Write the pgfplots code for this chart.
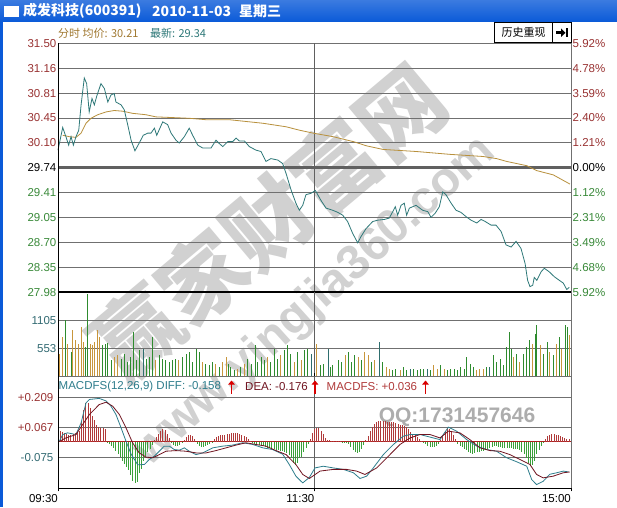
\documentclass[border=0pt]{standalone}
\usepackage{pgfplots}
\pgfplotsset{compat=1.18}
\usepackage{fontspec}
\setmainfont{Liberation Sans}
\newfontfamily\cjk{Noto Sans CJK SC}
\usetikzlibrary{arrows.meta}

\definecolor{tr}{HTML}{993333}
\definecolor{tg}{HTML}{3A8A3A}
\definecolor{gridc}{HTML}{707070}
\definecolor{vlc}{HTML}{606060}
\definecolor{pline}{HTML}{2E7878}
\definecolor{avgc}{HTML}{B8903C}
\definecolor{hdr}{HTML}{A07830}
\definecolor{vo}{HTML}{C8963C}
\definecolor{vg}{HTML}{2E8B2E}
\definecolor{vt}{HTML}{2E6E6E}
\definecolor{vlab}{HTML}{336B73}
\definecolor{mr}{HTML}{B03A3A}
\definecolor{mg}{HTML}{3AA03A}
\definecolor{difc}{HTML}{2E7D8C}
\definecolor{deac}{HTML}{701420}
\definecolor{zeroc}{HTML}{B02020}
\definecolor{winblue}{HTML}{0A5AD8}

\pgfplotsset{
  panel/.style={
    scale only axis, width=513pt, xmin=0, xmax=240,
    axis line style={draw=none}, tick style={draw=none},
    xtick=\empty,
    ymajorgrids, grid style={gridc, line width=0.9pt},
    yticklabel style={font=\fontsize{11.5}{12}\selectfont, inner sep=1.5pt},
    clip=false,
    extra x ticks={120}, extra x tick labels={},
    extra x tick style={grid=major, major grid style={vlc, line width=1.8pt}},
  }
}

\begin{document}
\begin{tikzpicture}[x=1pt,y=1pt]
% window
\fill[white] (0,0) rectangle (617,507);
\shade[top color=winblue!80!white, bottom color=winblue] (0,485) rectangle (617,507);
\fill[winblue] (0,0) rectangle (3,485);
\draw[white, fill=white] (4.5,491) rectangle (18,500.5);
\node[anchor=west, text=white, font=\cjk\bfseries\fontsize{14}{14}\selectfont, inner sep=0] at (23,496) {成发科技(600391)};
\node[anchor=west, text=white, font=\cjk\bfseries\fontsize{14}{14}\selectfont, inner sep=0] at (152,496) {2010-11-03};
\node[anchor=west, text=white, font=\cjk\bfseries\fontsize{14}{14}\selectfont, inner sep=0] at (239,496) {星期三};

% watermark
\node[rotate=40, font=\cjk\bfseries\fontsize{86}{86}\selectfont, text=black!18] at (268,285) {赢家财富网};
\node[rotate=42, font=\bfseries\fontsize{48}{48}\selectfont, text=black!18] at (315,205) {www.yingjia360.com};
\node[font=\bfseries\fontsize{21}{21}\selectfont, text=black!32] at (457,90) {QQ:1731457646};

% header
\node[anchor=west, font=\cjk\fontsize{11}{11}\selectfont, inner sep=0, text=hdr] at (58,474) {分时 均价: 30.21};
\node[anchor=west, font=\cjk\fontsize{11}{11}\selectfont, inner sep=0, text=pline] at (150,474) {最新: 29.34};
\draw[black, fill=white, line width=0.8pt] (494.3,464.3) rectangle (552.7,484.3);
\node[font=\cjk\fontsize{11}{11}\selectfont] at (523.5,474.3) {历史重现};
\draw[black, fill=white, line width=0.8pt] (552.7,464.3) rectangle (571,484.3);
\fill[black] (556,472.5) rectangle (561,476);
\fill[black] (561,470) -- (565.5,474.2) -- (561,478.5) -- cycle;
\fill[black] (566,469.5) rectangle (568,479);

% price panel
\begin{axis}[panel, at={(58pt,214.7pt)}, anchor=south west, height=249pt,
  ymin=27.98, ymax=31.50,
  ytick={27.98,28.332,28.684,29.036,29.388,29.74,30.092,30.444,30.796,31.148,31.50},
  yticklabels={\textcolor{tg}{27.98},\textcolor{tg}{28.35},\textcolor{tg}{28.70},\textcolor{tg}{29.05},\textcolor{tg}{29.41},29.74,\textcolor{tr}{30.10},\textcolor{tr}{30.45},\textcolor{tr}{30.81},\textcolor{tr}{31.16},\textcolor{tr}{31.50}},
  extra y ticks={29.74}, extra y tick labels={},
  extra y tick style={major grid style={vlc, line width=3pt}},
]
\addplot[avgc, line width=0.8pt, mark=none] coordinates {
(2.2,30.20)(5.3,30.18)(8.4,30.17)(10.8,30.23)(13.1,30.37)(15.4,30.44)(18.6,30.49)(22.5,30.53)
(26.3,30.55)(30.3,30.54)(34.9,30.51)(41.2,30.49)(45.8,30.46)(53.7,30.45)(61.4,30.44)(69.2,30.42)
(80.1,30.42)(95.8,30.37)(106.7,30.32)(113.2,30.27)(119.4,30.23)(128.7,30.18)(138.2,30.11)
(144.4,30.05)(152.0,30.00)(167.8,29.97)(183.4,29.93)(198.8,29.90)(205.2,29.87)(209.9,29.83)
(219.3,29.77)(224.0,29.70)(231.7,29.64)(239.5,29.51)
};
\addplot[pline, line width=0.8pt, mark=none] coordinates {
(0,29.99)(2.2,30.31)(3.7,30.18)(5.0,30.06)(6.1,30.18)(7.2,30.06)(8.4,30.18)(9.7,30.27)
(10.8,30.63)(12.3,31.01)(13.4,30.93)(14.6,30.53)(15.9,30.72)(17.0,30.63)(18.1,30.75)(20.1,30.93)
(21.7,30.86)(23.3,30.67)(24.8,30.77)(26.3,30.79)(27.1,30.67)(29.5,30.63)(31.0,30.56)(32.6,30.35)
(34.2,30.13)(36.0,29.98)(38.0,30.09)(39.9,30.20)(42.0,30.23)(43.5,30.23)(45.1,30.30)(46.2,30.20)
(49.0,30.39)(51.3,30.35)(52.9,30.23)(55.2,30.13)(56.7,30.09)(59.1,30.18)(61.4,30.30)(63.0,30.20)
(65.4,30.06)(67.7,30.02)(71.6,30.02)(73.9,30.13)(75.2,30.09)(77.1,30.04)(79.4,30.11)(81.7,30.11)
(83.3,30.16)(84.8,30.12)(87.2,30.12)(89.5,30.04)(92.6,29.99)(95.0,29.97)(97.3,29.83)(99.6,29.87)
(102.8,29.85)(105.1,29.80)(106.7,29.66)(109.0,29.43)(111.3,29.24)(112.9,29.14)(114.5,29.21)
(116.0,29.36)(118.4,29.38)(120.4,29.42)(123.0,29.28)(125.4,29.17)(128.5,29.14)(130.9,29.11)
(133.2,29.07)(135.5,28.98)(137.9,28.81)(140.2,28.68)(141.8,28.77)(144.1,28.88)(147.2,28.98)
(149.6,29.00)(152.7,29.01)(155.0,29.03)(156.6,29.12)(157.8,29.19)(158.9,29.07)(160.5,29.21)
(162.0,29.24)(163.1,29.07)(164.4,29.17)(167.5,29.21)(170.6,29.14)(173.0,29.12)(174.5,29.04)
(176.5,29.10)(178.4,29.19)(180.0,29.40)(181.5,29.36)(183.9,29.24)(186.2,29.14)(188.5,29.11)
(190.9,29.05)(193.2,29.00)(195.9,28.96)(197.9,29.01)(199.9,28.98)(202.6,28.93)(204.9,28.93)
(207.3,28.84)(209.6,28.65)(212.0,28.62)(214.3,28.70)(216.6,28.60)(218.5,28.39)(219.7,28.15)
(220.8,28.06)(222.1,28.08)(222.8,28.19)(224.0,28.15)(226.0,28.27)(227.5,28.32)(229.8,28.27)
(232.2,28.20)(234.5,28.15)(236.4,28.11)(238.0,28.02)(239.2,28.05)
};
\draw[black, line width=1.8pt] (rel axis cs:0,0) -- (rel axis cs:1,0);
\end{axis}

% right-hand percent labels
\begin{axis}[scale only axis, width=513pt, height=249pt, at={(58pt,214.7pt)}, anchor=south west,
  xmin=0, xmax=240, ymin=27.98, ymax=31.50, xtick=\empty,
  axis line style={draw=none}, tick style={draw=none},
  yticklabel pos=right,
  yticklabel style={font=\fontsize{11.5}{12}\selectfont, inner sep=1.5pt},
  ytick={27.98,28.332,28.684,29.036,29.388,29.74,30.092,30.444,30.796,31.148,31.50},
  yticklabels={\textcolor{tg}{5.92\%},\textcolor{tg}{4.68\%},\textcolor{tg}{3.49\%},\textcolor{tg}{2.31\%},\textcolor{tg}{1.12\%},0.00\%,\textcolor{tr}{1.21\%},\textcolor{tr}{2.40\%},\textcolor{tr}{3.59\%},\textcolor{tr}{4.78\%},\textcolor{tr}{5.92\%}},
]
\end{axis}

% volume panel
\begin{axis}[panel, at={(58pt,131pt)}, anchor=south west, height=83.7pt,
  ymin=0, ymax=1677, ytick={0,553,1105},
  yticklabels={{},\textcolor{vlab}{553},\textcolor{vlab}{1105}},
]
\addplot[ycomb, vo, line width=1pt, mark=none] coordinates {
(0.6,450)(2.2,785)(4.5,650)(6.9,918)(8.4,718)(9.7,650)(10.8,985)(11.9,685)(15,650)(16.2,620)
(17.3,685)(18.6,918)(19.6,785)(26.4,385)(27.9,420)(45.8,320)(56.5,320)(67.7,285)(73.9,250)(77,285)
(78.6,385)(84.1,150)(87.2,250)(98.1,385)(104.3,420)(110.6,285)(113.7,320)(118.4,385)(121,650)
(134.3,420)(140.5,385)(143.6,485)(145.2,420)(148.3,320)(153.5,185)(155,150)(160,120)(175.9,220)
(177.4,150)(180.6,150)(195.9,120)(197.4,150)(199,150)(213.3,385)(216.1,285)(222,650)(225.5,620)
(230.1,485)(233.3,650)(235.6,550)(239.2,815)
};
\addplot[ycomb, vg, line width=1pt, mark=none] coordinates {
(3.4,1117)(6.1,485)(12.8,585)(13.9,1650)(20.9,620)(22.1,650)(23.2,665)(24.8,320)(29.5,350)(31,450)
(32.6,285)(33.7,385)(35.2,885)(36.5,320)(38,520)(41.2,350)(42.7,385)(44.3,785)(47.4,420)(49,350)
(50.5,320)(52.1,285)(53.6,320)(55.2,350)(58.3,385)(59.9,450)(61.4,485)(63,285)(64.6,550)(66.4,485)
(69.2,250)(70.8,220)(72.4,285)(75.5,185)(79.8,250)(80.9,185)(82.5,120)(85.6,185)(88.7,350)(90.3,250)
(92.2,620)(93.4,285)(95,385)(96.5,320)(99.6,285)(101.2,550)(102.8,350)(105.9,520)(107.4,620)(109,450)
(112.1,485)(115.2,520)(116.8,550)(122.6,220)(124.1,250)(127.4,185)(128.6,220)(131.1,320)(132.6,285)
(135.8,485)(137.4,285)(138.9,420)(142.1,320)(146.7,285)(151.9,285)(156.6,120)(158.1,150)(161.6,185)
(163.1,120)(166.5,150)(168.1,120)(169.6,135)(171.2,135)(174.3,120)(179,220)(182.1,120)(183.7,135)
(185.3,135)(186.8,120)(188.4,185)(190,150)(191.2,385)(192.8,250)(194.3,185)(200.6,185)(203.7,420)
(205.2,285)(206.8,350)(208.3,220)(209.9,585)(211,885)(212.2,550)(214.6,450)(217.7,450)(219.2,585)
(220.8,720)(223.2,850)(223.9,1017)(227,450)(228.9,685)(231.7,420)(234.8,785)(237.2,1017)(238.3,985)
};
\addplot[ycomb, vt, line width=1pt, mark=none] coordinates {
(39.9,550)(118.7,450)(126.5,550)(150.3,685)(164.7,150)(172.8,150)(202.1,185)
};
\end{axis}

% MACD panel
\begin{axis}[panel, at={(58pt,18.7pt)}, anchor=south west, height=112.3pt,
  ymin=-0.2215, ymax=0.310,
  ytick={-0.075,0.067,0.209},
  yticklabels={\textcolor{vlab}{-0.075},\textcolor{tr}{+0.067},\textcolor{tr}{+0.209}},
  extra y ticks={0}, extra y tick labels={},
  extra y tick style={major grid style={zeroc, line width=1.5pt}},
  xtick={0,120,240}, xticklabels={09:30,11:30,15:00},
  xtick style={draw=black, line width=0.8pt}, tick align=outside, major tick length=3pt,
  xticklabel style={font=\fontsize{11.5}{12}\selectfont, anchor=north east, inner xsep=0pt},
]
\addplot[ycomb, mr, line width=0.7pt, mark=none] coordinates {
(0,0.04)(1,0.05)(2,0.045)(3,0.04)(4,0.035)(5,0.033)(6,0.033)(7,0.035)(8,0.04)(9,0.045)(10,0.05)
(11,0.09)(12,0.15)(13,0.18)(14,0.18)(15,0.16)(16,0.12)(17,0.1)(18,0.08)(19,0.07)(20,0.066)(21,0.065)(22,0.06)
(45,0.005)(46,0.02)(47,0.035)(48,0.05)(49,0.06)(50,0.055)(51,0.035)(52,0.015)
(59,0.005)(60,0.02)(61,0.03)(62,0.033)(63,0.025)(64,0.01)
(73,0.01)(74,0.02)(75,0.025)(76,0.03)(77,0.03)(78,0.032)(79,0.035)(80,0.037)(81,0.04)(82,0.041)
(83,0.041)(84,0.04)(85,0.036)(86,0.033)(87,0.028)(88,0.02)(89,0.01)(90,0.003)
(118,0.01)(119,0.04)(120,0.06)(121,0.065)(122,0.065)(123,0.05)(124,0.035)(125,0.015)(126,0.008)
(127,0.005)(128,0.004)(129,0.003)(130,0.003)(131,0.002)(132,0.002)
(144,0.005)(145,0.025)(146,0.05)(147,0.07)(148,0.085)(149,0.093)(150,0.096)(151,0.096)(152,0.095)
(153,0.096)(154,0.094)(155,0.092)(156,0.09)(157,0.09)(158,0.088)(159,0.085)(160,0.08)(161,0.08)
(162,0.075)(163,0.07)(164,0.06)(165,0.045)(166,0.035)(167,0.03)(168,0.02)(169,0.01)(170,0.003)
(179,0.005)(180,0.03)(181,0.05)(182,0.065)(183,0.06)(184,0.05)(185,0.03)(186,0.01)
(228,0.01)(229,0.025)(230,0.033)(231,0.036)(232,0.035)(233,0.033)(234,0.03)(235,0.025)(236,0.02)
(237,0.015)(238,0.01)(239,0.01)(240,0.01)
};
\addplot[ycomb, mg, line width=0.7pt, mark=none] coordinates {
(23,-0.005)(24,-0.014)(25,-0.02)(26,-0.03)(27,-0.045)(28,-0.06)(29,-0.075)(30,-0.09)(31,-0.105)
(32,-0.12)(33,-0.135)(34,-0.16)(35,-0.185)(36,-0.196)(37,-0.19)(38,-0.15)(39,-0.13)(40,-0.093)
(41,-0.07)(42,-0.05)(43,-0.035)(44,-0.015)
(53,-0.005)(54,-0.015)(55,-0.02)(56,-0.022)(57,-0.015)(58,-0.008)
(65,-0.01)(66,-0.02)(67,-0.027)(68,-0.027)(69,-0.022)(70,-0.015)(71,-0.01)(72,-0.005)
(91,-0.003)(92,-0.014)(93,-0.016)(94,-0.018)(95,-0.02)(96,-0.02)(97,-0.025)(98,-0.03)(99,-0.03)
(100,-0.035)(101,-0.035)(102,-0.04)(103,-0.04)(104,-0.045)(105,-0.046)(106,-0.05)(107,-0.055)
(108,-0.062)(109,-0.08)(110,-0.1)(111,-0.109)(112,-0.1)(113,-0.08)(114,-0.075)(115,-0.05)(116,-0.03)(117,-0.01)
(133,-0.002)(134,-0.003)(135,-0.005)(136,-0.01)(137,-0.025)(138,-0.04)(139,-0.05)(140,-0.054)
(141,-0.05)(142,-0.035)(143,-0.015)
(171,-0.005)(172,-0.012)(173,-0.02)(174,-0.025)(175,-0.027)(176,-0.025)(177,-0.02)(178,-0.01)
(187,-0.01)(188,-0.02)(189,-0.028)(190,-0.035)(191,-0.04)(192,-0.05)(193,-0.055)(194,-0.06)
(195,-0.055)(196,-0.05)(197,-0.048)(198,-0.045)(199,-0.046)(200,-0.04)(201,-0.035)(202,-0.03)
(203,-0.025)(204,-0.022)(205,-0.022)(206,-0.025)(207,-0.028)(208,-0.03)(209,-0.03)(210,-0.03)
(211,-0.03)(212,-0.032)(213,-0.034)(214,-0.035)(215,-0.036)(216,-0.04)(217,-0.05)(218,-0.06)
(219,-0.08)(220,-0.1)(221,-0.117)(222,-0.11)(223,-0.09)(224,-0.06)(225,-0.04)(226,-0.02)(227,-0.005)
};
\addplot[difc, line width=0.8pt, mark=none] coordinates {
(0.6,0)(2.2,0.033)(4.5,0.041)(8.4,0.033)(10.8,0.088)(13.1,0.183)(14.7,0.199)(19.3,0.204)(22.5,0.192)
(24.8,0.167)(27.1,0.128)(29.5,0.065)(31.8,0.002)(34.2,-0.06)(37.3,-0.11)(40.4,-0.109)(42.7,-0.085)
(45.1,-0.069)(47.4,-0.046)(49.7,-0.022)(52.1,-0.022)(54.4,-0.038)(56.8,-0.041)(59.1,-0.03)(61.4,-0.046)
(64.6,-0.062)(67.7,-0.054)(72.4,-0.03)(77.0,-0.022)(81.7,-0.017)(86.4,-0.006)(91.1,-0.014)(95.8,-0.03)
(100.4,-0.038)(105.1,-0.06)(108.2,-0.109)(111.3,-0.164)(114.5,-0.196)(117.6,-0.17)(120.2,-0.125)
(124.1,-0.117)(128.8,-0.125)(133.5,-0.132)(138.2,-0.148)(141.3,-0.175)(144.4,-0.164)(147.5,-0.125)
(152.2,-0.062)(156.9,-0.014)(161.5,0.025)(164.7,0.033)(169.4,0.033)(174.0,0.021)(178.7,0.009)
(182.6,0.068)(186.5,0.049)(191.2,0.009)(195.9,-0.022)(200.6,-0.038)(205.2,-0.046)(209.9,-0.077)
(214.6,-0.096)(219.3,-0.117)(221.6,-0.18)(223.9,-0.204)(227.0,-0.188)(230.1,-0.155)(233.3,-0.148)
(236.4,-0.14)(238.8,-0.144)
};
\addplot[deac, line width=0.8pt, mark=none] coordinates {
(0.6,0)(3.7,0.017)(8.4,0.033)(11.5,0.08)(14.7,0.128)(19.3,0.175)(22.5,0.186)(25.6,0.167)(28.7,0.128)
(31.8,0.065)(34.9,-0.006)(38.0,-0.054)(41.2,-0.074)(44.3,-0.077)(47.4,-0.062)(50.5,-0.046)(55.2,-0.043)
(59.9,-0.046)(64.6,-0.054)(69.2,-0.054)(73.9,-0.043)(78.6,-0.03)(83.3,-0.017)(87.9,-0.006)(92.6,-0.014)
(97.3,-0.022)(102.0,-0.043)(106.7,-0.062)(111.3,-0.109)(114.5,-0.156)(117.6,-0.175)(122.6,-0.14)
(128.8,-0.132)(135.0,-0.132)(139.7,-0.14)(143.6,-0.156)(149.1,-0.125)(155.3,-0.062)(160.0,-0.014)
(164.7,0.017)(169.4,0.033)(174.0,0.033)(178.7,0.017)(182.6,0.049)(188.0,0.041)(192.7,0.009)
(197.4,-0.03)(202.1,-0.043)(206.7,-0.046)(211.4,-0.062)(216.1,-0.085)(220.8,-0.109)(223.9,-0.156)
(227.0,-0.172)(231.7,-0.164)(236.4,-0.148)(239.4,-0.144)
};
\draw[black, line width=1pt] (rel axis cs:0,0) -- (rel axis cs:1,0);
\end{axis}

% MACD caption row
\node[anchor=west, inner sep=0, font=\fontsize{11.5}{12}\selectfont, text=difc] at (58.5,120) {MACDFS(12,26,9) DIFF: -0.158};
\node[anchor=west, inner sep=0, font=\fontsize{11.5}{12}\selectfont, text=deac] at (245,120) {DEA: -0.176};
\node[anchor=west, inner sep=0, font=\fontsize{11.5}{12}\selectfont, text=mr] at (326.5,120) {MACDFS: +0.036};
\foreach \ax in {231.5,315,425.5}
  \draw[red!85!black, line width=1.6pt, -{Triangle[length=4pt,width=6.5pt]}] (\ax,113.5) -- (\ax,126.5);

% frame
\draw[black, line width=1pt] (58,18.7) -- (58,463.7);
\draw[gridc, line width=1pt] (571,18.7) -- (571,463.7);
\end{tikzpicture}
\end{document}
